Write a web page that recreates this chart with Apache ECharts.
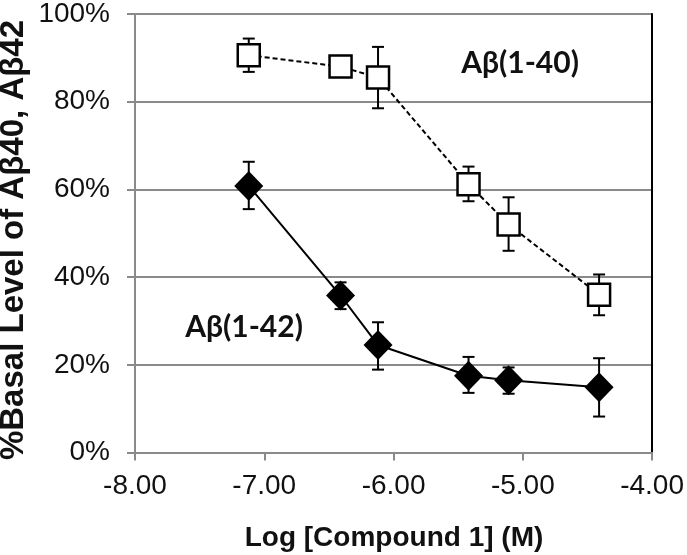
<!DOCTYPE html>
<html>
<head>
<meta charset="utf-8">
<script src="https://cdn.jsdelivr.net/npm/echarts@6/dist/echarts.min.js"></script>
<style>html,body{margin:0;padding:0;background:#fff}#c{width:687px;height:555px}</style>
</head>
<body>
<div id="c"></div>
<script>
// Data
var logConc = [-7.12, -6.41, -6.12, -5.42, -5.11, -4.41];
var ab40 = [90.6, 88.0, 85.5, 61.2, 52.0, 36.0];
var ab40Low = [86.8, 87.2, 78.5, 57.3, 46.0, 31.3];
var ab40High = [94.4, 88.8, 92.5, 65.2, 58.2, 40.6];
var ab42 = [60.8, 35.8, 24.5, 17.5, 16.5, 14.9];
var ab42Low = [55.5, 32.7, 18.9, 13.6, 13.4, 8.2];
var ab42High = [66.3, 38.8, 29.7, 21.8, 19.4, 21.5];
var xTicks = [-8, -7, -6, -5, -4];
var yTicks = [0, 20, 40, 60, 80, 100];

function pairs(xs, ys) { return xs.map(function (x, i) { return [x, ys[i]]; }); }
function errData(xs, lo, hi) { return xs.map(function (x, i) { return [x, lo[i], hi[i]]; }); }

function errRender(params, api) {
  var x = api.value(0);
  var lo = api.coord([x, api.value(1)]);
  var hi = api.coord([x, api.value(2)]);
  var cap = 6;
  var st = { stroke: '#000', lineWidth: 2 };
  return {
    type: 'group',
    children: [
      { type: 'line', shape: { x1: lo[0], y1: lo[1], x2: hi[0], y2: hi[1] }, style: st },
      { type: 'line', shape: { x1: lo[0] - cap, y1: lo[1], x2: lo[0] + cap, y2: lo[1] }, style: st },
      { type: 'line', shape: { x1: hi[0] - cap, y1: hi[1], x2: hi[0] + cap, y2: hi[1] }, style: st }
    ]
  };
}

var chart = echarts.init(document.getElementById('c'), null, { renderer: 'canvas' });
var tickFont = 'Liberation Sans, Arial, sans-serif';
chart.setOption({
  animation: false,
  backgroundColor: '#fff',
  grid: { left: 135, right: 33.5, top: 10, bottom: 102.5 },
  xAxis: {
    type: 'value', min: xTicks[0], max: xTicks[xTicks.length - 1], interval: 1,
    axisLine: { show: true, onZero: false, lineStyle: { color: '#8a8a8a', width: 2 } },
    axisTick: { show: true, length: 8, lineStyle: { color: '#8a8a8a', width: 2 } },
    splitLine: { show: false },
    axisLabel: { fontSize: 28, color: '#111', fontFamily: tickFont, margin: 20,
      formatter: function (v) { return v.toFixed(2); } }
  },
  yAxis: [{
    type: 'value', min: yTicks[0], max: yTicks[yTicks.length - 1], interval: 20,
    axisLine: { show: true, lineStyle: { color: '#8a8a8a', width: 2 } },
    axisTick: { show: true, length: 8, lineStyle: { color: '#8a8a8a', width: 2 } },
    splitLine: { show: true, lineStyle: { color: '#8a8a8a', width: 2 } },
    axisLabel: { fontSize: 28, color: '#111', fontFamily: tickFont, margin: 25,
      formatter: function (v) { return v + '%'; } }
  }, {
    type: 'value', position: 'right', min: 0, max: 100, interval: 20,
    axisLine: { show: true, lineStyle: { color: '#000', width: 2 } },
    axisTick: { show: false }, axisLabel: { show: false }, splitLine: { show: false }
  }],
  graphic: [
    { type: 'text', x: 14, y: 240, rotation: Math.PI / 2,
      style: { text: '%Basal Level of A\u03b240, A\u03b242', font: 'bold 33px Liberation Sans, Arial, sans-serif',
        fill: '#111', textAlign: 'center', textVerticalAlign: 'middle' } },
    { type: 'text', x: 394, y: 538,
      style: { text: 'Log [Compound 1] (M)', font: 'bold 28px Liberation Sans, Arial, sans-serif',
        fill: '#111', textAlign: 'center', textVerticalAlign: 'middle' } },
    { type: 'text', x: 520, y: 63,
      style: { text: 'A\u03b2(1-40)', font: 'bold 30px Lato, Calibri, sans-serif',
        fill: '#111', textAlign: 'center', textVerticalAlign: 'middle' } },
    { type: 'text', x: 244, y: 327,
      style: { text: 'A\u03b2(1-42)', font: 'bold 30px Lato, Calibri, sans-serif',
        fill: '#111', textAlign: 'center', textVerticalAlign: 'middle' } }
  ],
  series: [
    { type: 'custom', name: 'err40', renderItem: errRender, data: errData(logConc, ab40Low, ab40High), z: 1, encode: { x: 0, y: [1, 2] } },
    { type: 'custom', name: 'err42', renderItem: errRender, data: errData(logConc, ab42Low, ab42High), z: 1, encode: { x: 0, y: [1, 2] } },
    { type: 'line', name: 'Ab40', data: pairs(logConc, ab40), z: 3,
      symbol: 'rect', symbolSize: 22,
      itemStyle: { color: '#fff', borderColor: '#000', borderWidth: 2.5 },
      lineStyle: { color: '#000', width: 2, type: [5, 3] } },
    { type: 'line', name: 'Ab42', data: pairs(logConc, ab42), z: 3,
      symbol: 'diamond', symbolSize: [29, 30],
      itemStyle: { color: '#000', borderColor: '#000', borderWidth: 0 },
      lineStyle: { color: '#000', width: 2 } }
  ]
});
</script>
</body>
</html>
